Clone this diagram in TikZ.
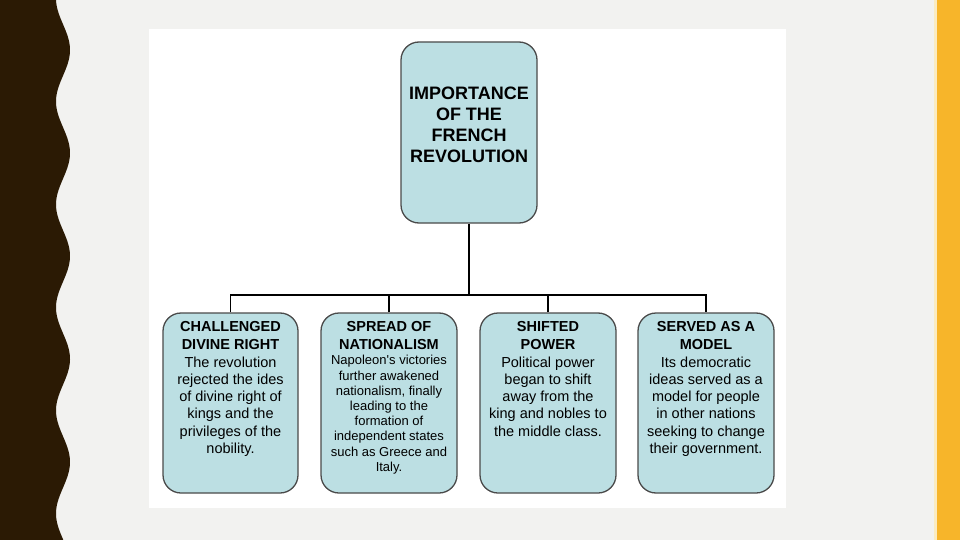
\documentclass[tikz,border=0pt]{standalone}
\usepackage{fontspec}
\setmainfont{Liberation Sans}
\newfontfamily\af{Liberation Sans}
\definecolor{bgc}{HTML}{F2F2F0}
\definecolor{darkband}{HTML}{2B1A04}
\definecolor{yellowbar}{HTML}{F7B52A}
\definecolor{yellowline}{HTML}{FBEBC0}
\definecolor{boxfill}{HTML}{BCDFE3}
\definecolor{boxline}{HTML}{4A4A4A}
\tikzset{
  cbox/.style={draw=boxline, line width=1.3pt, fill=boxfill, rounded corners=18pt, inner sep=0pt},
  ctext/.style={anchor=north, align=center, inner sep=0pt, text=black},
  titletext/.style={ctext, font=\af\fontsize{18}{21}\selectfont\bfseries},
  headtext/.style={ctext, font=\af\fontsize{14.5}{17.6}\selectfont\bfseries},
  bodytext/.style={ctext, font=\af\fontsize{14.5}{17.2}\selectfont},
  smalltext/.style={ctext, font=\af\fontsize{13}{15.2}\selectfont},
  conn/.style={draw=black, line width=1.3pt},
}
\begin{document}
\begin{tikzpicture}[x=1pt,y=-1pt]
\useasboundingbox (0,0) rectangle (960,540);
\fill[bgc] (0,0) rectangle (960,540);
% left wavy band
\fill[darkband] (0,0) -- plot[domain=0:540, samples=240, smooth] ({63+7*cos(3.4951*(\x-50))},{\x}) -- (0,540) -- cycle;
% right bar
\fill[yellowline] (934,0) rectangle (937,540);
\fill[yellowbar] (937,0) rectangle (960,540);
% white panel
\fill[white] (149,29) rectangle (786,508);
% top box
\node[cbox, minimum width=136pt, minimum height=181pt] (top) at (469,132.5) {};
\node[titletext] (toptext) at (469,86.5) {IMPORTANCE\\OF THE\\FRENCH\\REVOLUTION};
% bottom boxes
\node[cbox, minimum width=135pt, minimum height=180pt] (b1) at (230.5,403) {};
\node[cbox, minimum width=136pt, minimum height=180pt] (b2) at (389,403) {};
\node[cbox, minimum width=136pt, minimum height=180pt] (b3) at (548,403) {};
\node[cbox, minimum width=136pt, minimum height=180pt] (b4) at (706,403) {};
\node[headtext] (h1) at (230.5,321.5) {CHALLENGED\\DIVINE RIGHT};
\node[bodytext] (t1) at (230.5,356.5) {The revolution\\rejected the ides\\of divine right of\\kings and the\\privileges of the\\nobility.};
\node[headtext] (h2) at (389,321.5) {SPREAD OF\\NATIONALISM};
\node[smalltext] (t2) at (389,355.3) {Napoleon's victories\\further awakened\\nationalism, finally\\leading to the\\formation of\\independent states\\such as Greece and\\Italy.};
\node[headtext] (h3) at (548,321.5) {SHIFTED\\POWER};
\node[bodytext] (t3) at (548,356.5) {Political power\\began to shift\\away from the\\king and nobles to\\the middle class.};
\node[headtext] (h4) at (706,321.5) {SERVED AS A\\MODEL};
\node[bodytext] (t4) at (706,356.5) {Its democratic\\ideas served as a\\model for people\\in other nations\\seeking to change\\their government.};
% connectors
\coordinate (hub) at (469,295);
\draw[conn] (top.south) -- (hub);
\draw[conn] (b1.north) -- (b1.north |- hub) -- (b4.north |- hub) -- (b4.north);
\draw[conn] (b2.north) -- (b2.north |- hub);
\draw[conn] (b3.north) -- (b3.north |- hub);
\end{tikzpicture}
\end{document}
